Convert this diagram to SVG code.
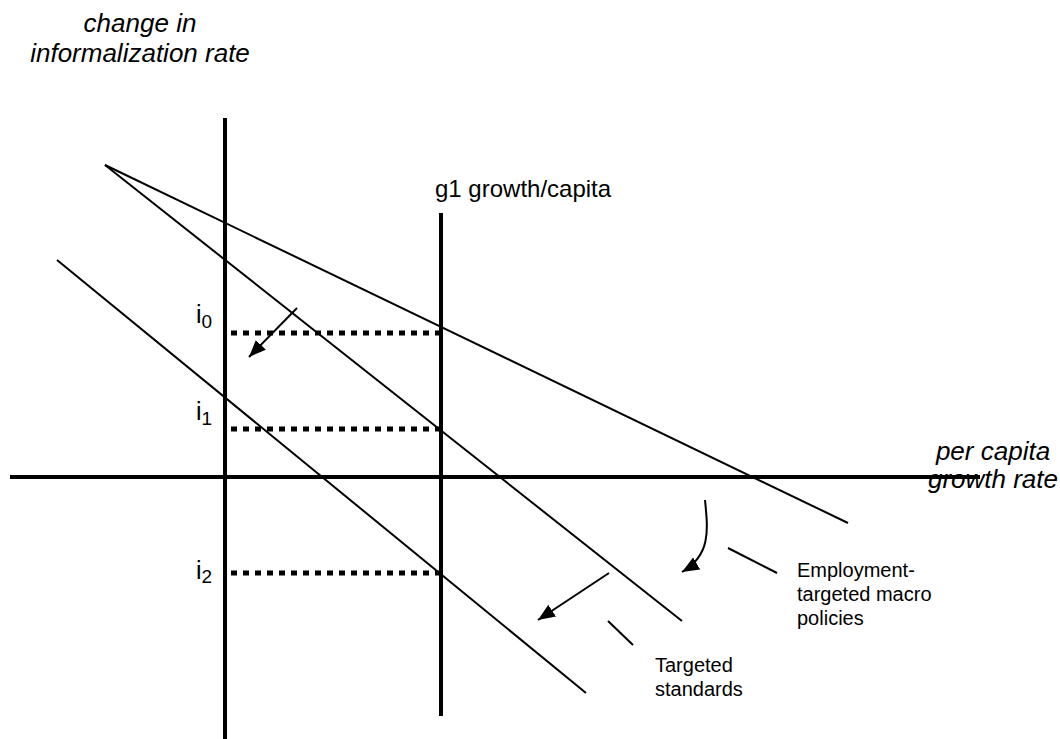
<svg xmlns="http://www.w3.org/2000/svg" width="1060" height="739" viewBox="0 0 1060 739">
<style>
text{font-family:"Liberation Sans",Arial,sans-serif;fill:#000}
.ax{stroke:#000;stroke-width:4;fill:none}
.ln{stroke:#000;stroke-width:2;fill:none}
.dot{stroke:#000;stroke-width:5;stroke-dasharray:6 6;fill:none}
.it{font-style:italic;font-size:26px}
.lab{font-size:20px}
.sym{font-size:25px}
.sub{font-size:19px}
</style>
<defs>
<marker id="ah" markerUnits="userSpaceOnUse" markerWidth="18" markerHeight="14" refX="17" refY="7" orient="auto">
<path d="M0,0 L17,7 L0,14 z" fill="#000"/>
</marker>
</defs>
<rect width="1060" height="739" fill="#fff"/>
<g id="axes">
<line class="ax" x1="225" y1="118" x2="225" y2="739"/>
<line class="ax" x1="10" y1="477" x2="980" y2="477"/>
<line class="ax" x1="441" y1="213" x2="441" y2="716"/>
</g>
<g id="connectors">
<line class="ln" x1="105" y1="165" x2="848" y2="523"/>
<line class="ln" x1="105" y1="165" x2="682" y2="621"/>
<line class="ln" x1="57" y1="260" x2="586" y2="693"/>
<line class="dot" x1="231" y1="333" x2="441" y2="333"/>
<line class="dot" x1="231" y1="429" x2="441" y2="429"/>
<line class="dot" x1="231" y1="573" x2="441" y2="573"/>
<line class="ln" x1="297" y1="308" x2="249" y2="357" marker-end="url(#ah)"/>
<path class="ln" d="M705,500 C708,530 711,555 682,572" marker-end="url(#ah)"/>
<line class="ln" x1="609" y1="573" x2="538" y2="620" marker-end="url(#ah)"/>
<line class="ln" x1="728" y1="548" x2="777" y2="573"/>
<line class="ln" x1="608" y1="621" x2="633" y2="645"/>
</g>
<g id="yaxis-label"><text class="it" text-anchor="middle"><tspan x="140" y="32">change in</tspan><tspan x="140" y="62">informalization rate</tspan></text></g>
<g id="xaxis-label"><text class="it" text-anchor="middle"><tspan x="993" y="460">per capita</tspan><tspan x="993" y="488">growth rate</tspan></text></g>
<g id="g1-label"><text x="435" y="197" style="font-size:24px">g1 growth/capita</text></g>
<g id="i0"><text x="196" y="323" class="sym">i<tspan class="sub" dy="5">0</tspan></text></g>
<g id="i1"><text x="196" y="420" class="sym">i<tspan class="sub" dy="5">1</tspan></text></g>
<g id="i2"><text x="196" y="579" class="sym">i<tspan class="sub" dy="4">2</tspan></text></g>
<g id="employment-label"><text class="lab"><tspan x="797" y="577">Employment-</tspan><tspan x="797" y="601">targeted macro</tspan><tspan x="797" y="625">policies</tspan></text></g>
<g id="standards-label"><text class="lab"><tspan x="655" y="672">Targeted</tspan><tspan x="655" y="696">standards</tspan></text></g>
</svg>
